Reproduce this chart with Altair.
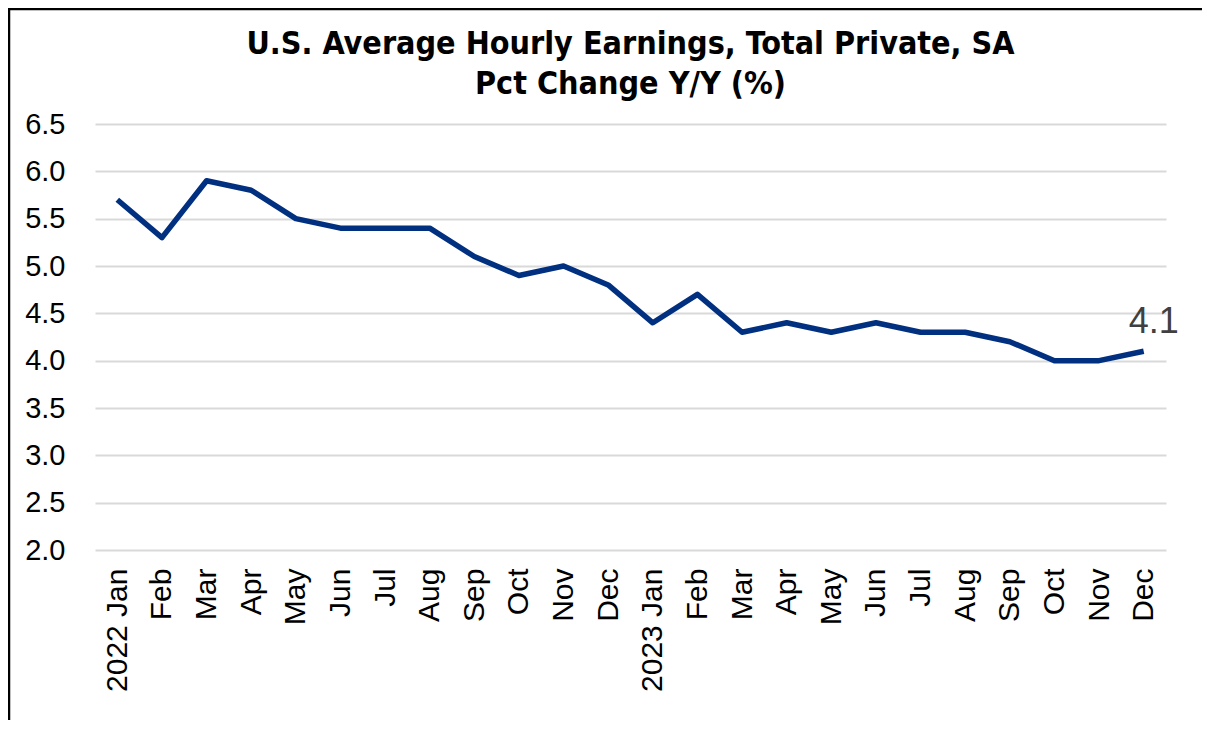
import altair as alt
import pandas as pd
import json

months = ["2022-01", "2022-02", "2022-03", "2022-04", "2022-05", "2022-06",
          "2022-07", "2022-08", "2022-09", "2022-10", "2022-11", "2022-12",
          "2023-01", "2023-02", "2023-03", "2023-04", "2023-05", "2023-06",
          "2023-07", "2023-08", "2023-09", "2023-10", "2023-11", "2023-12"]
tick_labels = ["2022 Jan", "Feb", "Mar", "Apr", "May", "Jun", "Jul", "Aug",
               "Sep", "Oct", "Nov", "Dec", "2023 Jan", "Feb", "Mar", "Apr",
               "May", "Jun", "Jul", "Aug", "Sep", "Oct", "Nov", "Dec"]
values = [5.7, 5.3, 5.9, 5.8, 5.5, 5.4, 5.4, 5.4, 5.1, 4.9, 5.0, 4.8,
          4.4, 4.7, 4.3, 4.4, 4.3, 4.4, 4.3, 4.3, 4.2, 4.0, 4.0, 4.1]
y_ticks = [2.0, 2.5, 3.0, 3.5, 4.0, 4.5, 5.0, 5.5, 6.0, 6.5]

df = pd.DataFrame({"month": months, "value": values})
label_map = json.dumps(dict(zip(months, tick_labels)))

x_enc = alt.X("month:O", sort=None, title=None,
              scale=alt.Scale(type="point", padding=0.5),
              axis=alt.Axis(labelExpr=f"{label_map}[datum.value]",
                            labelAngle=-90, labelAlign="right",
                            labelBaseline="middle", labelPadding=18,
                            labelFontSize=30, labelFont="Liberation Sans",
                            labelColor="#000000", ticks=False, domain=False,
                            grid=False))
y_enc = alt.Y("value:Q", title=None,
              scale=alt.Scale(domain=[2.0, 6.5], nice=False, zero=False),
              axis=alt.Axis(values=y_ticks, format=".1f", labelFontSize=29,
                            labelFont="Liberation Sans", labelColor="#000000",
                            labelPadding=30, ticks=False, domain=False,
                            grid=True, gridColor="#d9d9d9", gridWidth=2))

line = alt.Chart(df).mark_line(color="#00307f", strokeWidth=5.5,
                               strokeJoin="round").encode(x=x_enc, y=y_enc)

last = df.iloc[[-1]]
label = alt.Chart(last).mark_text(fontSize=36, font="Liberation Sans",
                                  color="#404040", dx=10, dy=-18,
                                  baseline="alphabetic", align="center").encode(
    x=alt.X("month:O", sort=months), y=alt.Y("value:Q"),
    text=alt.Text("value:Q", format=".1f"))

frame = alt.Data(values=[{}])
border_top = alt.Chart(frame).mark_rule(
    color="#000000", strokeWidth=2.5, clip=False).encode(
    x=alt.value(-87), x2=alt.value(1200), y=alt.value(-115))
border_left = alt.Chart(frame).mark_rule(
    color="#000000", strokeWidth=2.5, clip=False).encode(
    x=alt.value(-86), y=alt.value(-116), y2=alt.value(700))

chart = alt.layer(line, label, border_top, border_left).properties(
    width=1071, height=426,
    title=alt.TitleParams(
        text=["U.S. Average Hourly Earnings, Total Private, SA",
              "Pct Change Y/Y (%)"],
        font="DejaVu Sans Condensed", fontSize=32, fontWeight="bold",
        color="#000000", anchor="middle", offset=0, dy=94, lineHeight=40),
    autosize=alt.AutoSizeParams(type="none"),
    padding={"left": 87, "top": 116, "right": 36, "bottom": 170},
).configure_view(stroke=None)

chart.save("out.html", embed_options={"renderer": "svg", "actions": False})
